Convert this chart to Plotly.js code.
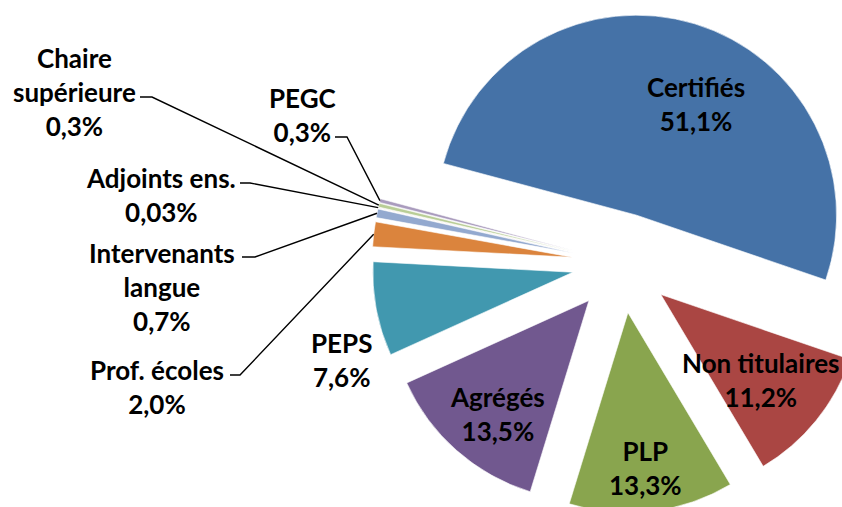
<!DOCTYPE html>
<html>
<head>
<meta charset="utf-8">
<script src="https://cdn.plot.ly/plotly-3.0.1.min.js"></script>
<style>
html,body{margin:0;padding:0;overflow:hidden;background:#fff;}
#chart{width:880px;height:515px;}
</style>
</head>
<body>
<div id="chart"></div>
<script>
// ---- data ----
const categories = ['Certifiés','Non titulaires','PLP','Agrégés','PEPS','Prof. écoles','Intervenants langue','Adjoints ens.','Chaire supérieure','PEGC'];
const values = [51.1, 11.2, 13.3, 13.5, 7.6, 2.0, 0.7, 0.03, 0.3, 0.3];
const percentLabels = ['51,1%','11,2%','13,3%','13,5%','7,6%','2,0%','0,7%','0,03%','0,3%','0,3%'];
const displayNames = ['Certifiés','Non titulaires','PLP','Agrégés','PEPS','Prof. écoles','Intervenants<br>langue','Adjoints ens.','Chaire<br>supérieure','PEGC'];
const colors = ['#4572A7','#AA4643','#89A54E','#71588F','#4198AF','#DB843D','#93A9CF','#D19392','#B9CD96','#A99BBD'];

// ---- layout geometry ----
const W = 880, H = 515;
const CX = 622, CY = 263, R = 200, PULL = 0.25;
const START = 285; // clockwise from 12 o'clock
const half = R * (1 + PULL);
const px = x => x / W;
const py = y => 1 - y / H;

// label block centres (px)
const labelPos = [[696,104],[761,380],[645,468],[497,414],[341,360],[157,387],[162,287],[161,195],[74,92],[302,115]];
// leader line label-side start and elbow (px), null = no leader
const leaderStart = [null,null,null,null,null,[[230,375],[240,375]],[[242,257],[255,257]],[[240,183],[250,183]],[[140,97],[152,97]],[[335,137],[347,137]]];

const total = values.reduce((a,b)=>a+b,0);
let cum = 0;
const shapes = [];
values.forEach((v,i) => {
  const mid = (START + (cum + v/2) / total * 360) * Math.PI / 180;
  cum += v;
  const tx = CX + half * Math.sin(mid);
  const ty = CY - half * Math.cos(mid);
  const ls = leaderStart[i];
  if (ls) {
    shapes.push({
      type:'path', xref:'paper', yref:'paper',
      path:`M ${px(ls[0][0])},${py(ls[0][1])} L ${px(ls[1][0])},${py(ls[1][1])} L ${px(tx)},${py(ty)}`,
      line:{color:'#000', width:1.4}
    });
  }
});

const annotations = categories.map((c,i) => ({
  x: px(labelPos[i][0]), y: py(labelPos[i][1]), xref:'paper', yref:'paper',
  text: displayNames[i] + '<br>' + percentLabels[i],
  showarrow:false, xanchor:'center', yanchor:'middle', align:'center',
  font:{family:'Lato, "Open Sans", sans-serif', size:26, color:'#000', weight:'bold'}
}));

const trace = {
  type:'pie',
  labels: categories,
  values: values,
  sort:false,
  direction:'clockwise',
  rotation: START - 360,
  pull: values.map(()=>PULL),
  marker:{colors: colors, line:{color:'#ffffff', width:0.6}},
  textinfo:'none',
  hoverinfo:'label+percent',
  showlegend:false,
  domain:{x:[px(CX-half), px(CX+half)], y:[py(CY+half), py(CY-half)]}
};

Plotly.newPlot('chart', [trace], {
  width:W, height:H,
  margin:{l:0,r:0,t:0,b:0},
  paper_bgcolor:'#fff',
  showlegend:false,
  annotations: annotations,
  shapes: shapes
}, {displayModeBar:false, staticPlot:true});
</script>
</body>
</html>
